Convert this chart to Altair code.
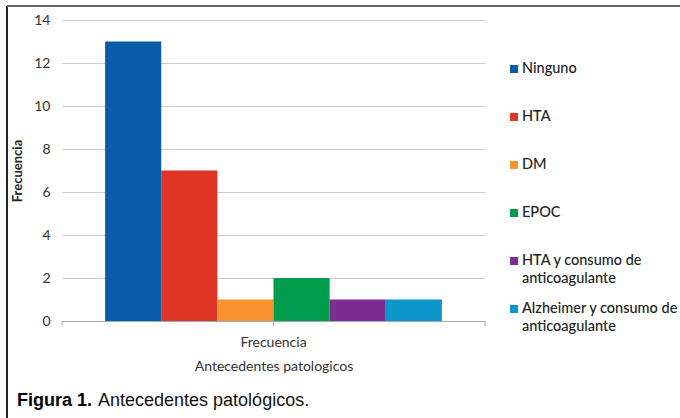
import altair as alt
import pandas as pd

categories = ["Ninguno", "HTA", "DM", "EPOC", "HTA y consumo de anticoagulante",
              "Alzheimer y consumo de anticoagulante"]
legend_labels = ["Ninguno", "HTA", "DM", "EPOC", "HTA y consumo de\nanticoagulante",
                 "Alzheimer y consumo de\nanticoagulante"]
values = [13, 7, 1, 2, 1, 1]
colors = ["#0a5caa", "#de3526", "#f7942f", "#009c4e", "#7b2e8f", "#0b96c9"]
group = "Frecuencia"

df = pd.DataFrame({"cat": categories, "val": values, "grp": [group] * len(categories),
                   "lab": legend_labels})
one = pd.DataFrame({"k": [0]})

FONT = "Lato"
color_scale = alt.Scale(domain=categories, range=colors)

bars = alt.Chart(df).mark_bar().encode(
    x=alt.X("grp:N", title="Antecedentes patologicos",
            scale=alt.Scale(paddingInner=0, paddingOuter=0.128),
            axis=alt.Axis(labelAngle=0, domainColor="#a3aab2", tickColor="#a3aab2",
                          tickSize=5, labelPadding=9, titlePadding=10, labelFontSize=14,
                          titleFontSize=14, labelColor="#333", titleColor="#333",
                          titleFontWeight="normal", labelFont=FONT, titleFont=FONT)),
    xOffset=alt.XOffset("cat:N", sort=categories, scale=alt.Scale(paddingInner=0, paddingOuter=0)),
    y=alt.Y("val:Q", title="Frecuencia", scale=alt.Scale(domain=[0, 14]),
            axis=alt.Axis(values=[0, 2, 4, 6, 8, 10, 12, 14], grid=True, gridColor="#c9cdd2",
                          domain=False, ticks=False, labelPadding=12, labelFontSize=14,
                          labelColor="#333", titleFontSize=13, titleFontWeight="bold",
                          titleColor="#222", titlePadding=9, labelFont=FONT, titleFont=FONT)),
    color=alt.Color("cat:N", scale=color_scale, legend=None),
)

end_ticks = alt.Chart(pd.DataFrame({"p": [0, 1]})).mark_rule(color="#a3aab2").encode(
    x=alt.X("p:Q", scale=alt.Scale(domain=[0, 1]), axis=None),
    y=alt.value(301), y2=alt.value(306),
)

leg_sq = alt.Chart(df).mark_square(size=64, opacity=1).encode(
    x=alt.value(452),
    y=alt.Y("cat:N", sort=categories, axis=None,
            scale=alt.Scale(type="point", range=[49, 289], padding=0)),
    color=alt.Color("cat:N", scale=color_scale, legend=None),
)
leg_txt = alt.Chart(df).mark_text(align="left", baseline="middle", font=FONT, fontSize=14.5,
                                  fontWeight=500, color="#222", lineBreak="\n",
                                  lineHeight=18).encode(
    x=alt.value(460),
    y=alt.Y("cat:N", sort=categories, axis=None,
            scale=alt.Scale(type="point", range=[49, 289], padding=0)),
    text="lab:N",
)

cap1 = alt.Chart(one).mark_text(align="left", baseline="alphabetic", font="Liberation Sans",
                                fontSize=18, fontWeight="bold", color="#000",
                                text="Figura 1.").encode(x=alt.value(-45), y=alt.value(386))
cap2 = alt.Chart(one).mark_text(align="left", baseline="alphabetic", font="Liberation Sans",
                                fontSize=18, fontWeight="normal", color="#111",
                                text="Antecedentes patológicos.").encode(x=alt.value(36), y=alt.value(386))

frame_left = alt.Chart(one).mark_rule(color="#222", strokeWidth=2).encode(
    x=alt.value(-55), y=alt.value(-14), y2=alt.value(400))
frame_top = alt.Chart(one).mark_rule(color="#666", strokeWidth=2).encode(
    x=alt.value(-55), x2=alt.value(620), y=alt.value(-14))

chart = alt.layer(bars, end_ticks, leg_sq, leg_txt, cap1, cap2, frame_left, frame_top).resolve_scale(
    y="independent", x="independent"
).properties(
    width=423, height=301,
    autosize=alt.AutoSizeParams(type="none"),
    padding={"left": 62, "top": 20, "right": 195, "bottom": 97},
    background="white",
).configure_view(stroke=None)

chart.save("out.html", embed_options={"renderer": "svg", "actions": False})
